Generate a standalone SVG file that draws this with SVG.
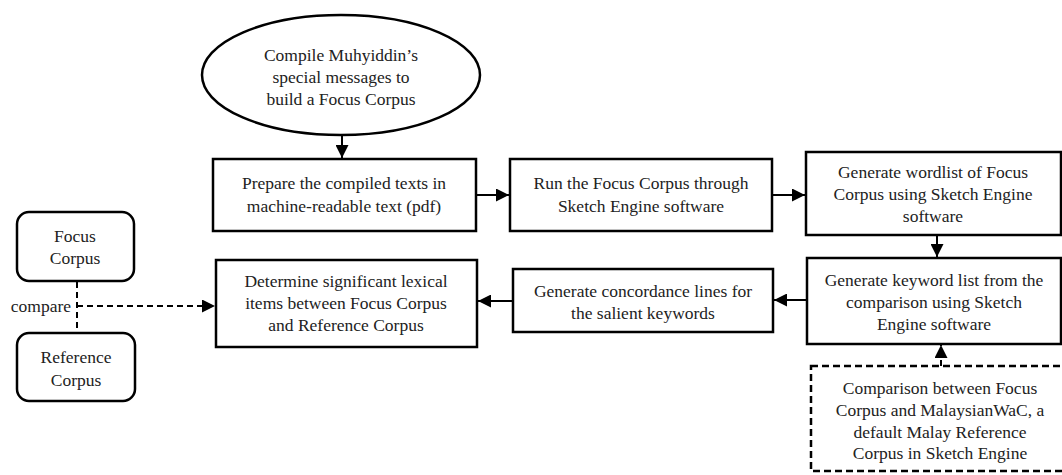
<svg xmlns="http://www.w3.org/2000/svg" width="1062" height="475" viewBox="0 0 1062 475">
<defs>
<style>
.n{fill:#fff;stroke:#000;stroke-width:2.5}
.d{fill:#fff;stroke:#000;stroke-width:2.5;stroke-dasharray:7 4}
.t{font-family:"Liberation Serif","Times New Roman",serif;font-size:17.5px;fill:#222;text-anchor:middle}
.c{fill:none;stroke:#000;stroke-width:2}
.cd{fill:none;stroke:#000;stroke-width:2;stroke-dasharray:6 4}
</style>
<marker id="a" viewBox="0 0 13 13" refX="13" refY="6.5" markerWidth="13" markerHeight="13" markerUnits="userSpaceOnUse" orient="auto">
<path d="M0,0 L13,6.5 L0,13 Z" fill="#000"/>
</marker>
</defs>
<rect width="1062" height="475" fill="#fff"/>
<g id="connectors">
<line class="c" x1="342" y1="136" x2="342" y2="158" marker-end="url(#a)"/>
<line class="c" x1="477" y1="195" x2="509" y2="195" marker-end="url(#a)"/>
<line class="c" x1="773" y1="195" x2="805" y2="195" marker-end="url(#a)"/>
<line class="c" x1="937" y1="236" x2="937" y2="257" marker-end="url(#a)"/>
<line class="c" x1="806" y1="300" x2="774" y2="300" marker-end="url(#a)"/>
<line class="c" x1="512" y1="301" x2="478" y2="301" marker-end="url(#a)"/>
<line class="cd" x1="941" y1="366" x2="941" y2="345" marker-end="url(#a)"/>
<line class="cd" x1="77" y1="282" x2="77" y2="332"/>
<line class="cd" x1="77" y1="306" x2="215" y2="306" marker-end="url(#a)"/>
<text class="t" x="71" y="312" style="text-anchor:end">compare</text>
</g>
<g id="n1">
<ellipse class="n" cx="341" cy="75" rx="139" ry="60"/>
<text class="t" x="341" y="61">Compile Muhyiddin’s</text>
<text class="t" x="341" y="83">special messages to</text>
<text class="t" x="341" y="105">build a Focus Corpus</text>
</g>
<g id="n2">
<rect class="n" x="213" y="159" width="263" height="72"/>
<text class="t" x="344" y="189">Prepare the compiled texts in</text>
<text class="t" x="344" y="212">machine-readable text (pdf)</text>
</g>
<g id="n3">
<rect class="n" x="510" y="159" width="262" height="72"/>
<text class="t" x="641" y="189">Run the Focus Corpus through</text>
<text class="t" x="641" y="212">Sketch Engine software</text>
</g>
<g id="n4">
<rect class="n" x="806" y="152" width="255" height="83"/>
<text class="t" x="933" y="178">Generate wordlist of Focus</text>
<text class="t" x="933" y="200">Corpus using Sketch Engine</text>
<text class="t" x="933" y="222">software</text>
</g>
<g id="n5">
<rect class="n" x="807" y="258" width="254" height="86"/>
<text class="t" x="934" y="286">Generate keyword list from the</text>
<text class="t" x="934" y="308">comparison using Sketch</text>
<text class="t" x="934" y="330">Engine software</text>
</g>
<g id="n6">
<rect class="n" x="513" y="269" width="260" height="63"/>
<text class="t" x="643" y="297">Generate concordance lines for</text>
<text class="t" x="643" y="319">the salient keywords</text>
</g>
<g id="n7">
<rect class="n" x="216" y="260" width="261" height="87"/>
<text class="t" x="346" y="287">Determine significant lexical</text>
<text class="t" x="346" y="309">items between Focus Corpus</text>
<text class="t" x="346" y="331">and Reference Corpus</text>
</g>
<g id="n8">
<rect class="d" x="811" y="366" width="260" height="105"/>
<text class="t" x="940" y="394">Comparison between Focus</text>
<text class="t" x="940" y="416">Corpus and MalaysianWaC, a</text>
<text class="t" x="940" y="438">default Malay Reference</text>
<text class="t" x="940" y="459">Corpus in Sketch Engine</text>
</g>
<g id="n9">
<rect class="n" x="17" y="212" width="117" height="69" rx="12"/>
<text class="t" x="75" y="242">Focus</text>
<text class="t" x="75" y="264">Corpus</text>
</g>
<g id="n10">
<rect class="n" x="17" y="333" width="118" height="68" rx="12"/>
<text class="t" x="76" y="363">Reference</text>
<text class="t" x="76" y="386">Corpus</text>
</g>
</svg>
